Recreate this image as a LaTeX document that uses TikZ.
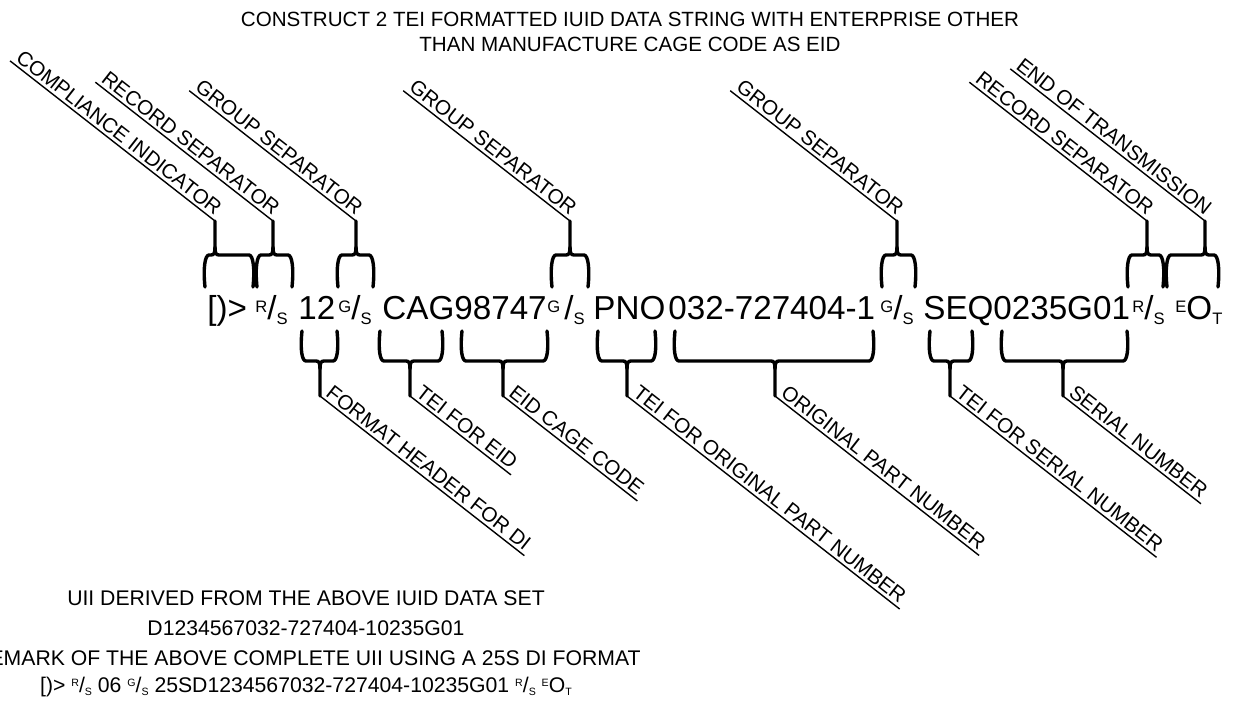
\documentclass[tikz,border=0pt]{standalone}
\usepackage{fontspec}
\setmainfont{Liberation Sans}
\usepackage{graphicx}
\usetikzlibrary{positioning,calc}
% control characters written as small raised/lowered letters
\newcommand{\ctl}[2]{\raisebox{0.24em}{\scalebox{0.5}{#1}}/\raisebox{-0.15em}{\scalebox{0.5}{#2}}}
\newcommand{\eotmark}{\raisebox{0.24em}{\scalebox{0.5}{E}}O\raisebox{-0.15em}{\scalebox{0.5}{T}}}

\begin{document}
\begin{tikzpicture}[x=0.5pt,y=-0.5pt,
  chars/.style={anchor=base west,inner sep=0pt,font=\fontsize{16.6}{18}\selectfont},
  toplbl/.style={anchor=south east,rotate=-38,inner xsep=1.5pt,inner ysep=1.6pt,text depth=0pt,font=\fontsize{10.3}{12}\selectfont},
  botlbl/.style={toplbl,anchor=south west},
  info/.style={anchor=base,inner sep=0pt,font=\fontsize{10.6}{12}\selectfont},
  brace/.style={line width=1.7pt,line cap=round,line join=round},
  uline/.style={line width=0.7pt}]
  \useasboundingbox (0,0) rectangle (1233,701);

  % title
  \node[info,font=\fontsize{10.3}{12}\selectfont] (title1) at (630,27) {CONSTRUCT 2 TEI FORMATTED IUID DATA STRING WITH ENTERPRISE OTHER};
  \node[info,font=\fontsize{10.3}{12}\selectfont] (title2) at (630,52) {THAN MANUFACTURE CAGE CODE AS EID};

  % the data string
  \foreach \n/\x/\t in {ci/207/{[)>},rs1/255/{\ctl{R}{S}},fh/298/{12},gs1/338/{\ctl{G}{S}},
      cag/382/{CAG},eid/454/{98747},gs2/547/{\ctl{G\hspace{4pt}}{S}},pno/593/{PNO},
      opn/668/{032-727404-1},gs3/880/{\ctl{G}{S}},seq/923/{SEQ},sn/993/{0235G01},
      rs2/1132/{\ctl{R}{S}},eot/1175/{\eotmark}}{
    \node[chars] (\n) at (\x,320) {\t};
  }

  % braces above the string
  \foreach \n/\l/\r/\t/\txt in {lci/205/253/215/COMPLIANCE INDICATOR,lrs1/257/292/273/RECORD SEPARATOR,
      lgs1/338/373/356/GROUP SEPARATOR,lgs2/552/588/570/GROUP SEPARATOR,lgs3/882/915/897/GROUP SEPARATOR,
      lrs2/1128/1163/1147/RECORD SEPARATOR,leot/1167/1218/1205/END OF TRANSMISSION}{
    \node[toplbl] (\n) at (\t,221) {\txt};
    \draw[uline] (\n.south west) -- (\n.south east);
    \draw[brace] (\l,287) .. controls (\l-2,268) and (\l,255) .. (\l+4,255) -- (\t-4,255)
      .. controls (\t-1,255) and (\t,253) .. (\t,247) -- (\n.south east);
    \draw[brace] (\r,287) .. controls (\r+2,268) and (\r,255) .. (\r-4,255) -- (\t+4,255)
      .. controls (\t+1,255) and (\t,253) .. (\t,247);
  }

  % braces below the string
  \foreach \n/\l/\r/\t/\txt in {lfh/302/337/320/FORMAT HEADER FOR DI,ltei1/380/442/410/TEI FOR EID,
      leid/462/547/503/EID CAGE CODE,ltei2/598/655/627/TEI FOR ORIGINAL PART NUMBER,
      lopn/675/873/775/ORIGINAL PART NUMBER,ltei3/930/972/950/TEI FOR SERIAL NUMBER,
      lsn/1002/1127/1063/SERIAL NUMBER}{
    \node[botlbl] (\n) at (\t,396) {\txt};
    \draw[uline] (\n.south west) -- (\n.south east);
    \draw[brace] (\l,331) .. controls (\l-2,350) and (\l,361) .. (\l+4,361) -- (\t-4,361)
      .. controls (\t-1,361) and (\t,363) .. (\t,369) -- (\n.south west);
    \draw[brace] (\r,331) .. controls (\r+2,350) and (\r,361) .. (\r-4,361) -- (\t+4,361)
      .. controls (\t+1,361) and (\t,363) .. (\t,369);
  }

  % derived UII
  \node[info] (uii) at (306,605) {UII DERIVED FROM THE ABOVE IUID DATA SET};
  \node[info] (uiival) at (306,635) {D1234567032-727404-10235G01};
  \node[info,anchor=base east] (mark) at (641,665) {EMARK OF THE ABOVE COMPLETE UII USING A 25S DI FORMAT};
  \node[info] (markval) at (306,692) {[)> \ctl{R}{S} 06 \ctl{G}{S} 25SD1234567032-727404-10235G01 \ctl{R}{S} \eotmark};
\end{tikzpicture}
\end{document}
